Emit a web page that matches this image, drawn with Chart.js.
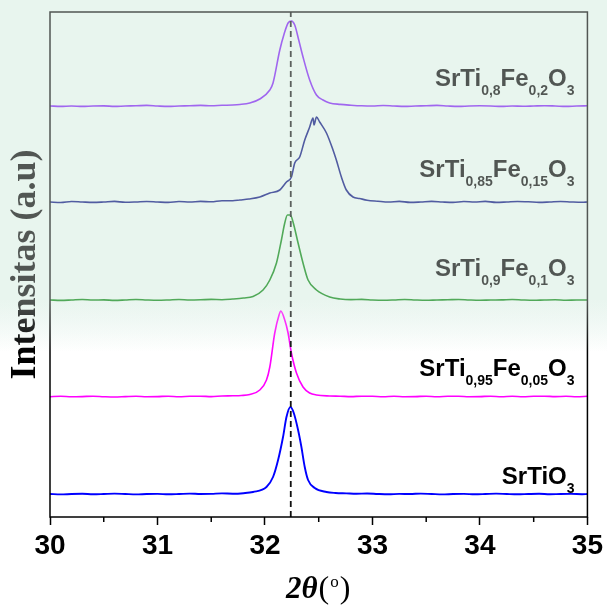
<!DOCTYPE html>
<html>
<head>
<meta charset="utf-8">
<script src="https://cdn.jsdelivr.net/npm/chart.js@4.4.0/dist/chart.umd.min.js"></script>
<style>
  html, body { margin: 0; padding: 0; background: #fff; }
  canvas { display: block; }
</style>
</head>
<body>
<canvas id="xrd" width="607" height="606"></canvas>
<script>
// 2theta values (deg) and intensities (a.u., curves stacked with offsets)
const tiO3X = [30.0, 30.1, 30.2, 30.3, 30.4, 30.5, 30.6, 30.7, 30.8, 30.9, 31.0, 31.1, 31.2, 31.3, 31.4, 31.5, 31.6, 31.7, 31.8, 31.889, 32.014, 32.075, 32.122, 32.168, 32.2, 32.237, 32.268, 32.308, 32.339, 32.37, 32.401, 32.463, 32.572, 32.657, 32.757, 32.85, 32.95, 33.05, 33.15, 33.25, 33.35, 33.45, 33.55, 33.65, 33.75, 33.85, 33.95, 34.05, 34.15, 34.25, 34.35, 34.45, 34.55, 34.65, 34.75, 34.85, 34.95, 35.0];
const tiO3Y = [23, 22.6, 23, 23.2, 22.7, 23, 23.4, 23, 22.6, 23, 23.1, 22.7, 23, 23.4, 23, 23.1, 23.6, 23.3, 23.8, 25, 30, 40, 57, 80, 100, 110, 104, 87, 70, 50, 37, 29, 25, 24, 23.6, 23.2, 23.5, 23, 22.7, 23.1, 23, 23.4, 23, 22.6, 23, 23.1, 22.7, 23, 23.4, 23, 22.7, 23, 23.2, 22.7, 23, 23.1, 22.8, 23];

const fe005X = [30.0, 30.1, 30.2, 30.3, 30.4, 30.5, 30.6, 30.7, 30.8, 30.9, 31.0, 31.1, 31.2, 31.3, 31.4, 31.5, 31.6, 31.7, 31.78, 31.859, 31.952, 32.014, 32.045, 32.091, 32.131, 32.147, 32.184, 32.215, 32.246, 32.293, 32.354, 32.416, 32.479, 32.602, 32.7, 32.8, 32.9, 33.0, 33.1, 33.2, 33.3, 33.4, 33.5, 33.6, 33.7, 33.8, 33.9, 34.0, 34.1, 34.2, 34.3, 34.4, 34.5, 34.6, 34.7, 34.8, 34.9, 35.0];
const fe005Y = [120.3, 120.7, 120.2, 120.4, 120.8, 120.3, 120, 120.4, 120.8, 120.3, 120.4, 120.8, 120.3, 120.7, 120.8, 120.4, 121, 121.2, 121.5, 122.5, 127, 137, 150, 184, 202, 206, 197, 184, 164, 144, 130, 124, 122, 121, 120.8, 120.4, 120.8, 120.7, 120.3, 120.7, 120.3, 120.4, 120.8, 120.3, 120.7, 120.8, 120.3, 120.4, 120.8, 120.3, 120.7, 120.3, 120.7, 120.8, 120.4, 120.7, 120.3, 120.7];

const fe01X = [30.0, 30.1, 30.2, 30.3, 30.4, 30.5, 30.6, 30.7, 30.8, 30.9, 31.0, 31.1, 31.2, 31.3, 31.4, 31.5, 31.6, 31.7, 31.8, 31.889, 31.982, 32.045, 32.107, 32.153, 32.184, 32.209, 32.237, 32.261, 32.308, 32.354, 32.401, 32.479, 32.602, 32.7, 32.8, 32.9, 33.0, 33.1, 33.2, 33.3, 33.4, 33.5, 33.6, 33.7, 33.8, 33.9, 34.0, 34.1, 34.2, 34.3, 34.4, 34.5, 34.6, 34.7, 34.8, 34.9, 35.0];
const fe01Y = [217, 216.6, 217, 217.5, 217, 217.1, 216.6, 217, 217.5, 217, 216.7, 217, 217.5, 217, 217.2, 217.6, 217.3, 218, 219, 220.5, 227, 237, 254, 277, 294, 302, 302, 295, 274, 254, 237, 227, 220, 218, 217.4, 217.6, 217, 216.7, 217, 217.5, 217, 216.7, 217, 217.2, 217.5, 217, 216.7, 217, 217.1, 217.5, 217, 216.7, 217, 217.2, 216.7, 217, 217];

const fe015X = [30.0, 30.1, 30.2, 30.3, 30.4, 30.5, 30.6, 30.7, 30.8, 30.9, 31.0, 31.1, 31.2, 31.3, 31.4, 31.5, 31.6, 31.7, 31.766, 31.85, 31.952, 32.045, 32.138, 32.2, 32.246, 32.277, 32.323, 32.37, 32.416, 32.447, 32.456, 32.479, 32.509, 32.572, 32.633, 32.664, 32.711, 32.757, 32.819, 32.881, 32.95, 33.05, 33.15, 33.25, 33.35, 33.45, 33.55, 33.65, 33.75, 33.85, 33.95, 34.05, 34.15, 34.25, 34.35, 34.45, 34.55, 34.65, 34.75, 34.85, 34.95, 35.0];
const fe015Y = [315, 314.5, 315.5, 315, 314.6, 315, 315.6, 314.7, 315, 315.5, 315, 314.6, 315.5, 315, 315.6, 315.2, 316.3, 316.2, 317, 318, 320, 324, 327, 335, 340, 354, 360, 377, 390, 399, 392, 400, 395, 384, 367, 357, 340, 327, 320, 318.5, 316.8, 315.8, 315, 315.6, 314.6, 315, 315.6, 315, 314.6, 315.5, 315, 315.6, 314.6, 315, 315.5, 315.2, 314.6, 315, 315.5, 315, 314.7, 315];

const fe02X = [30.0, 30.1, 30.2, 30.3, 30.4, 30.5, 30.6, 30.7, 30.8, 30.9, 31.0, 31.1, 31.2, 31.3, 31.4, 31.5, 31.6, 31.7, 31.766, 31.859, 31.952, 32.045, 32.075, 32.138, 32.178, 32.215, 32.246, 32.277, 32.314, 32.354, 32.416, 32.479, 32.54, 32.602, 32.7, 32.8, 32.9, 33.0, 33.1, 33.2, 33.3, 33.4, 33.5, 33.6, 33.7, 33.8, 33.9, 34.0, 34.1, 34.2, 34.3, 34.4, 34.5, 34.6, 34.7, 34.8, 34.9, 35.0];
const fe02Y = [411, 410.6, 411, 410.6, 411, 411.1, 410.6, 411, 411.2, 411.6, 411, 410.6, 411, 411.2, 411.6, 411.2, 411.7, 412, 412.5, 414, 418, 427, 434, 467, 483, 494, 496, 492, 477, 460, 437, 422, 417, 414, 412.6, 411.8, 411.2, 411, 411.5, 411, 410.6, 411, 411.2, 411.6, 411, 410.6, 411, 411.2, 411, 410.6, 411, 410.7, 411, 411.3, 411, 410.6, 411, 411.2];

// reference line at the SrTiO3 peak
const refLineX = 32.24;

// sample labels: [text, is subscript]
const sampleLabels = [
    [['SrTi', false], ['0,8', true], ['Fe', false], ['0,2', true], ['O', false], ['3', true]],
    [['SrTi', false], ['0,85', true], ['Fe', false], ['0,15', true], ['O', false], ['3', true]],
    [['SrTi', false], ['0,9', true], ['Fe', false], ['0,1', true], ['O', false], ['3', true]],
    [['SrTi', false], ['0,95', true], ['Fe', false], ['0,05', true], ['O', false], ['3', true]],
    [['SrTiO', false], ['3', true]]
];
const labelRightX = 34.88;
const labelBaseY = [431, 340, 241, 141, 33];

function toPoints(xs, ys) {
    return xs.map((x, i) => ({ x: x, y: ys[i] }));
}

// draws background, labels, minor ticks, frame, x title and the faded top part
const decorPlugin = {
    id: 'decor',
    beforeDraw(chart) {
        const ctx = chart.ctx;
        ctx.save();
        ctx.fillStyle = '#ffffff';
        ctx.fillRect(0, 0, chart.width, chart.height);
        const g = ctx.createLinearGradient(0, 300, 0, 352);
        g.addColorStop(0, 'rgb(233,245,239)');
        g.addColorStop(1, 'rgba(233,245,239,0)');
        ctx.fillStyle = 'rgb(233,245,239)';
        ctx.fillRect(0, 0, chart.width, 300);
        ctx.fillStyle = g;
        ctx.fillRect(0, 300, chart.width, 52);
        ctx.restore();
    },
    afterDatasetsDraw(chart) {
        const ctx = chart.ctx;
        const xs = chart.scales.x;
        const ys = chart.scales.y;
        const area = chart.chartArea;
        ctx.save();

        // sample labels, right aligned
        ctx.fillStyle = '#000';
        ctx.textBaseline = 'alphabetic';
        sampleLabels.forEach((parts, i) => {
            let w = 0;
            parts.forEach(p => {
                ctx.font = p[1] ? 'bold 14px "Liberation Sans"' : 'bold 24px "Liberation Sans"';
                w += ctx.measureText(p[0]).width;
            });
            let x = xs.getPixelForValue(labelRightX) - w;
            const y = ys.getPixelForValue(labelBaseY[i]);
            parts.forEach(p => {
                ctx.font = p[1] ? 'bold 14px "Liberation Sans"' : 'bold 24px "Liberation Sans"';
                ctx.fillText(p[0], x, p[1] ? y + 8.5 : y);
                x += ctx.measureText(p[0]).width;
            });
        });

        // minor ticks
        ctx.strokeStyle = '#000';
        ctx.lineWidth = 1.5;
        for (let v = 30.5; v < 35; v += 1) {
            const px = xs.getPixelForValue(v);
            ctx.beginPath();
            ctx.moveTo(px, area.bottom);
            ctx.lineTo(px, area.bottom + 5);
            ctx.stroke();
        }

        // frame
        ctx.strokeRect(area.left, area.top, area.right - area.left, area.bottom - area.top);
        ctx.restore();
    },
    afterDraw(chart) {
        const ctx = chart.ctx;
        const area = chart.chartArea;
        ctx.save();
        ctx.fillStyle = '#000';
        ctx.textBaseline = 'alphabetic';
        const parts = [
            ['2θ', 'italic bold 31px "Liberation Serif"', 0],
            ['(', '32px "Liberation Serif"', 0],
            ['o', '17px "Liberation Serif"', -11],
            [')', '32px "Liberation Serif"', 0]
        ];
        let w = 0;
        parts.forEach(p => { ctx.font = p[1]; w += ctx.measureText(p[0]).width + 1; });
        let x = (area.left + area.right) / 2 - w / 2;
        parts.forEach(p => {
            ctx.font = p[1];
            ctx.fillText(p[0], x, 598 + p[2]);
            x += ctx.measureText(p[0]).width + 1;
        });

        // faded upper part of the scanned figure
        const g = ctx.createLinearGradient(0, 300, 0, 352);
        g.addColorStop(0, 'rgba(233,245,239,0.35)');
        g.addColorStop(1, 'rgba(233,245,239,0)');
        ctx.fillStyle = 'rgba(233,245,239,0.35)';
        ctx.fillRect(0, 0, chart.width, 300);
        ctx.fillStyle = g;
        ctx.fillRect(0, 300, chart.width, 52);
        ctx.restore();
    }
};

const curveStyle = { borderWidth: 1.6, pointRadius: 0, fill: false, cubicInterpolationMode: 'monotone' };

new Chart(document.getElementById('xrd'), {
    type: 'line',
    data: {
        datasets: [
            {
                label: 'ref',
                data: [{ x: refLineX, y: 0 }, { x: refLineX, y: 505 }],
                borderColor: '#111',
                borderWidth: 1.8,
                borderDash: [6, 4],
                pointRadius: 0,
                fill: false
            },
            { label: 'SrTiO3', data: toPoints(tiO3X, tiO3Y), borderColor: '#0000ff', ...curveStyle, borderWidth: 1.9 },
            { label: 'SrTi0,95Fe0,05O3', data: toPoints(fe005X, fe005Y), borderColor: '#ff00ff', ...curveStyle },
            { label: 'SrTi0,9Fe0,1O3', data: toPoints(fe01X, fe01Y), borderColor: '#00800a', ...curveStyle },
            { label: 'SrTi0,85Fe0,15O3', data: toPoints(fe015X, fe015Y), borderColor: '#000a78', ...curveStyle },
            { label: 'SrTi0,8Fe0,2O3', data: toPoints(fe02X, fe02Y), borderColor: '#7a1af0', ...curveStyle }
        ]
    },
    options: {
        responsive: false,
        animation: false,
        devicePixelRatio: 1,
        layout: { padding: { left: 0, right: 19, top: 12, bottom: 0 } },
        plugins: {
            legend: { display: false },
            tooltip: { enabled: false }
        },
        scales: {
            x: {
                type: 'linear',
                min: 30,
                max: 35,
                afterFit: s => { s.height = 89; },
                ticks: {
                    stepSize: 1,
                    autoSkip: false,
                    maxRotation: 0,
                    padding: 4,
                    color: '#000',
                    font: { family: 'Liberation Sans', size: 28, weight: 'bold' }
                },
                grid: {
                    drawOnChartArea: false,
                    drawTicks: true,
                    tickLength: 8,
                    tickColor: '#000',
                    tickWidth: 1.5
                },
                border: { display: false }
            },
            y: {
                type: 'linear',
                min: 0,
                max: 505,
                afterFit: s => { s.width = 50; },
                ticks: { display: false },
                grid: { display: false },
                border: { display: false },
                title: {
                    display: true,
                    text: 'Intensitas (a.u)',
                    color: '#000',
                    padding: { top: 4, bottom: 0 },
                    font: { family: 'Liberation Serif', size: 36, weight: 'bold' }
                }
            }
        }
    },
    plugins: [decorPlugin]
});
</script>
</body>
</html>
